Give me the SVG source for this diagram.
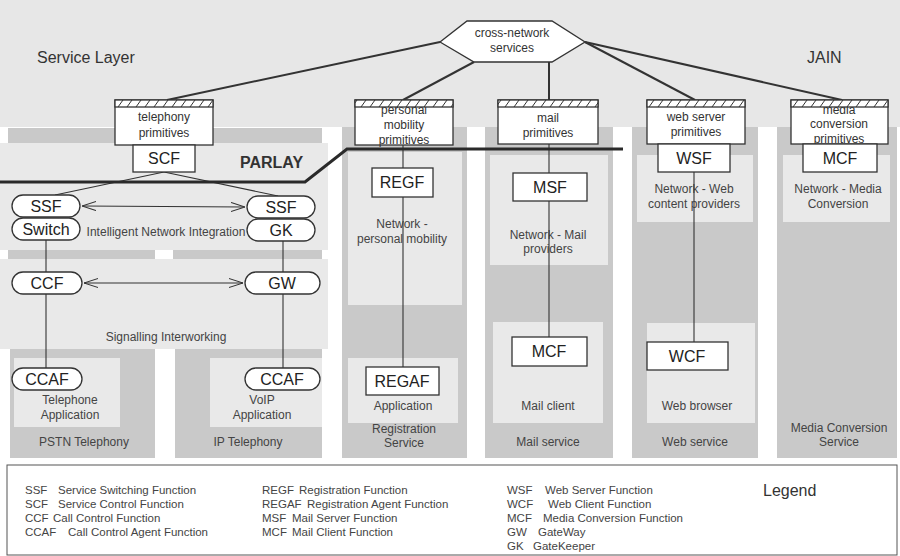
<svg xmlns="http://www.w3.org/2000/svg" width="900" height="556" viewBox="0 0 900 556">
<defs>
<style>
text{font-family:"Liberation Sans",Arial,sans-serif;fill:#333}
.sm{font-size:12px;text-anchor:middle}
.lbl{font-size:12px;text-anchor:middle;fill:#444}
.big{font-size:16px}
.nd{font-size:16px;text-anchor:middle;fill:#222}
.lg{font-size:11.5px;fill:#444}
.dk{fill:#c9c9c9}
.lt{fill:#e9e9e9}
.box{fill:#fff;stroke:#333;stroke-width:1.3}
.hb{fill:url(#hatch);stroke:#333;stroke-width:1.3}
.c{stroke:#333;stroke-width:1.1;fill:none}
.h{stroke:#333;stroke-width:2;fill:none}
.arr{stroke:#333;stroke-width:1.1;fill:none;marker-start:url(#ah);marker-end:url(#ah)}
</style>
<pattern id="hatch" patternUnits="userSpaceOnUse" x="0" y="100" width="9" height="7">
<rect width="9" height="7" fill="#fff"/>
<path d="M1,7 L6,0" stroke="#333" stroke-width="1"/>
</pattern>
<marker id="ah" viewBox="0 0 14 10" refX="14" refY="5" markerWidth="14" markerHeight="10" markerUnits="userSpaceOnUse" orient="auto-start-reverse">
<path d="M0,0.5 L14,5 L0,9.5" fill="none" stroke="#333" stroke-width="1"/>
</marker>
</defs>

<g id="backgrounds">
<rect x="0" y="0" width="900" height="127" fill="#e7e7e7"/>
<rect x="0" y="143" width="328" height="107" class="lt"/>
<rect x="8" y="128" width="314" height="15" class="dk"/>
<rect x="8" y="250" width="147" height="9" class="dk"/>
<rect x="173" y="250" width="149" height="9" class="dk"/>
<rect x="0" y="259" width="328" height="90" class="lt"/>
<rect x="10" y="349" width="145" height="109" class="dk"/>
<rect x="14" y="358" width="106" height="69" class="lt"/>
<rect x="175" y="349" width="147" height="109" class="dk"/>
<rect x="210" y="358" width="112" height="69" class="lt"/>
<rect x="342" y="127" width="125" height="331" class="dk"/>
<rect x="348" y="152" width="114" height="153" class="lt"/>
<rect x="348" y="358" width="110" height="65" class="lt"/>
<rect x="485" y="127" width="128" height="331" class="dk"/>
<rect x="490" y="155" width="118" height="110" class="lt"/>
<rect x="493" y="322" width="110" height="101" class="lt"/>
<rect x="632" y="127" width="126" height="331" class="dk"/>
<rect x="637" y="155" width="116" height="67" class="lt"/>
<rect x="647" y="323" width="108" height="100" class="lt"/>
<rect x="777" y="127" width="120" height="331" class="dk"/>
<rect x="783" y="155" width="107" height="67" class="lt"/>
</g>

<g id="labels">
<text x="37" y="63" class="big">Service Layer</text>
<text x="807" y="63" class="big">JAIN</text>
<text x="240" y="168" class="big" style="font-weight:bold">PARLAY</text>
<text x="166" y="236" class="lbl">Intelligent Network Integration</text>
<text x="166" y="341" class="lbl">Signalling Interworking</text>
<text x="70" y="404" class="lbl">Telephone</text>
<text x="70" y="419" class="lbl">Application</text>
<text x="262" y="404" class="lbl">VoIP</text>
<text x="262" y="419" class="lbl">Application</text>
<text x="402" y="228" class="lbl">Network -</text>
<text x="402" y="243" class="lbl">personal mobility</text>
<text x="548" y="239" class="lbl">Network - Mail</text>
<text x="548" y="253" class="lbl">providers</text>
<text x="694" y="193" class="lbl">Network - Web</text>
<text x="694" y="208" class="lbl">content providers</text>
<text x="838" y="193" class="lbl">Network - Media</text>
<text x="838" y="208" class="lbl">Conversion</text>
<text x="403" y="410" class="lbl">Application</text>
<text x="548" y="410" class="lbl">Mail client</text>
<text x="697" y="410" class="lbl">Web browser</text>
<text x="84" y="446" class="lbl">PSTN Telephony</text>
<text x="248" y="446" class="lbl">IP Telephony</text>
<text x="404" y="433" class="lbl">Registration</text>
<text x="404" y="447" class="lbl">Service</text>
<text x="548" y="446" class="lbl">Mail service</text>
<text x="695" y="446" class="lbl">Web service</text>
<text x="839" y="432" class="lbl">Media Conversion</text>
<text x="839" y="446" class="lbl">Service</text>
</g>

<g id="connectors">
<path class="h" d="M440,42 L167,100"/>
<path class="h" d="M474,62 L403,100"/>
<path class="h" d="M549,62 L549,100"/>
<path class="h" d="M585,42 L695,100"/>
<path class="h" d="M585,42 L842,100"/>
<path class="c" d="M164,172 L55,195"/>
<path class="c" d="M164,172 L278,196"/>
<path class="arr" d="M82,206 L245,207"/>
<path class="c" d="M46,240 L46,272"/>
<path class="c" d="M283,241 L283,272"/>
<path class="arr" d="M84,283 L243,283"/>
<path class="c" d="M46,294 L46,368"/>
<path class="c" d="M283,294 L283,368"/>
<path class="c" d="M403,145 L403,168 M403,197 L403,367"/>
<path class="c" d="M549,144 L549,173 M549,201 L549,337"/>
<path class="c" d="M694,172 L694,342"/>
<path d="M0,182 L305,182 L347,149 L623,149" fill="none" stroke="#2a2a2a" stroke-width="3"/>
</g>

<g id="cross-network">
<polygon class="box" points="440,42 467,21 552,21 585,42 552,62 474,62"/>
<text x="512" y="37" class="sm">cross-network</text>
<text x="512" y="52" class="sm">services</text>
</g>

<g id="telephony-primitives">
<rect class="box" x="115" y="100" width="98" height="45"/>
<rect class="hb" x="115" y="100" width="98" height="7"/>
<text x="164" y="121" class="sm">telephony</text>
<text x="164" y="137" class="sm">primitives</text>
</g>
<g id="scf"><rect class="box" x="133" y="145" width="62" height="27"/><text x="164" y="164" class="nd">SCF</text></g>
<g id="ssf1"><rect class="box" x="12" y="195" width="68" height="22" rx="11"/><text x="46" y="212" class="nd">SSF</text></g>
<g id="switch"><rect class="box" x="12" y="218" width="68" height="22" rx="11"/><text x="46" y="235" class="nd">Switch</text></g>
<g id="ssf2"><rect class="box" x="247" y="196" width="68" height="22" rx="11"/><text x="281" y="213" class="nd">SSF</text></g>
<g id="gk"><rect class="box" x="247" y="219" width="68" height="22" rx="11"/><text x="281" y="236" class="nd">GK</text></g>
<g id="ccf"><rect class="box" x="12" y="272" width="70" height="22" rx="11"/><text x="47" y="289" class="nd">CCF</text></g>
<g id="gw"><rect class="box" x="245" y="272" width="75" height="22" rx="11"/><text x="282" y="289" class="nd">GW</text></g>
<g id="ccaf1"><rect class="box" x="12" y="368" width="70" height="22" rx="11"/><text x="47" y="385" class="nd">CCAF</text></g>
<g id="ccaf2"><rect class="box" x="245" y="368" width="75" height="22" rx="11"/><text x="282" y="385" class="nd">CCAF</text></g>

<g id="mobility-primitives">
<rect class="box" x="355" y="100" width="98" height="45"/>
<text x="404" y="114" class="sm">personal</text>
<rect class="hb" x="355" y="100" width="98" height="7"/>
<text x="404" y="129" class="sm">mobility</text>
<text x="404" y="144" class="sm">primitives</text>
</g>
<g id="regf"><rect class="box" x="372" y="168" width="61" height="29"/><text x="402" y="188" class="nd">REGF</text></g>
<g id="regaf"><rect class="box" x="366" y="367" width="73" height="28"/><text x="402" y="387" class="nd">REGAF</text></g>

<g id="mail-primitives">
<rect class="box" x="498" y="100" width="100" height="44"/>
<rect class="hb" x="498" y="100" width="100" height="7"/>
<text x="548" y="122" class="sm">mail</text>
<text x="548" y="137" class="sm">primitives</text>
</g>
<g id="msf"><rect class="box" x="513" y="173" width="74" height="28"/><text x="550" y="193" class="nd">MSF</text></g>
<g id="mcf-mail"><rect class="box" x="512" y="337" width="75" height="29"/><text x="549" y="357" class="nd">MCF</text></g>

<g id="web-primitives">
<rect class="box" x="647" y="100" width="98" height="44"/>
<rect class="hb" x="647" y="100" width="98" height="7"/>
<text x="696" y="121" class="sm">web server</text>
<text x="696" y="136" class="sm">primitives</text>
</g>
<g id="wsf"><rect class="box" x="658" y="144" width="72" height="28"/><text x="694" y="164" class="nd">WSF</text></g>
<g id="wcf"><rect class="box" x="647" y="342" width="81" height="28"/><text x="687" y="362" class="nd">WCF</text></g>

<g id="media-primitives">
<rect class="box" x="791" y="100" width="97" height="44"/>
<text x="839" y="114" class="sm">media</text>
<rect class="hb" x="791" y="100" width="97" height="7"/>
<text x="839" y="128" class="sm">conversion</text>
<text x="839" y="143" class="sm">primitives</text>
</g>
<g id="mcf-media"><rect class="box" x="803" y="144" width="74" height="28"/><text x="840" y="164" class="nd">MCF</text></g>

<g id="legend">
<rect x="7" y="465" width="890" height="90" fill="#fff" stroke="#555" stroke-width="1"/>
<text x="763" y="496" class="big" style="fill:#333">Legend</text>
<text class="lg" x="25" y="494">SSF</text><text class="lg" x="58" y="494">Service Switching Function</text>
<text class="lg" x="25" y="508">SCF</text><text class="lg" x="58" y="508">Service Control Function</text>
<text class="lg" x="25" y="522">CCF</text><text class="lg" x="53" y="522">Call Control Function</text>
<text class="lg" x="25" y="536">CCAF</text><text class="lg" x="68" y="536">Call Control Agent Function</text>
<text class="lg" x="262" y="494">REGF</text><text class="lg" x="299" y="494">Registration Function</text>
<text class="lg" x="262" y="508">REGAF</text><text class="lg" x="307" y="508">Registration Agent Function</text>
<text class="lg" x="262" y="522">MSF</text><text class="lg" x="292" y="522">Mail Server Function</text>
<text class="lg" x="262" y="536">MCF</text><text class="lg" x="292" y="536">Mail Client Function</text>
<text class="lg" x="507" y="494">WSF</text><text class="lg" x="545" y="494">Web Server Function</text>
<text class="lg" x="507" y="508">WCF</text><text class="lg" x="548" y="508">Web Client Function</text>
<text class="lg" x="507" y="522">MCF</text><text class="lg" x="543" y="522">Media Conversion Function</text>
<text class="lg" x="507" y="536">GW</text><text class="lg" x="538" y="536">GateWay</text>
<text class="lg" x="507" y="550">GK</text><text class="lg" x="533" y="550">GateKeeper</text>
</g>
</svg>
